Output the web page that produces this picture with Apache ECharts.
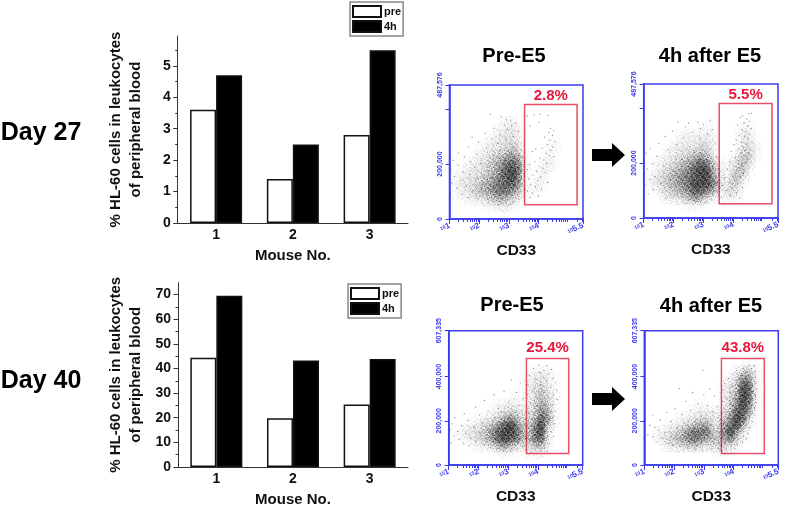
<!DOCTYPE html>
<html><head><meta charset="utf-8">
<style>html,body{margin:0;padding:0;background:#fff}#c{width:787px;height:508px}</style>
<script src="https://cdn.jsdelivr.net/npm/echarts@6/dist/echarts.min.js"></script>
</head><body><div id="c"></div>
<script>
// ---------- data ----------
const mice = ['1','2','3'];
const day27Pre = [3.6,1.4,2.8];
const day27After = [4.7,2.5,5.5];
const day40Pre = [44.3,19.8,25.4];
const day40After = [69.5,43.2,43.8];
const day27Ticks = [0,1,2,3,4,5];
const day27Minor = [0.5,1.5,2.5,3.5,4.5,5.5];
const day40Ticks = [0,10,20,30,40,50,60,70];
const day40Minor = [5,15,25,35,45,55,65];

// flow panels: x = log10(CD33), y in thousands
const decadeLabels = [1,2,3,4,5,5.5];
const logFractions = [0.301,0.477,0.602,0.699,0.778,0.845,0.903,0.954];
const day27YMax = 487.576, day40YMax = 607.335;
const day27YTicks = [0,200,400,487.576], day27YLabels = [0,200,487.576];
const day40YTicks = [0,200,400,607.335], day40YLabels = [0,200,400,607.335];

const day27PreGate = [3.53,5.3,52,417], day27AfterGate = [3.53,5.3,52,417];
const day40PreGate = [3.61,5.03,52,482], day40AfterGate = [3.59,5.03,52,482];

// density read by eye, rows from the top; columns log10 = 1.1, 1.3 ... 5.3
const day27PreDensity = [
 "0000000000000000000000",
 "0000000001100000000000",
 "0000000011210000000000",
 "0000000112210000000000",
 "0000001122320000010000",
 "0000011223430000010000",
 "0000112345651000100000",
 "0001123457871000110000",
 "0011223468981001100000",
 "0112234578971001000000",
 "0122345678861011000000",
 "0112345677641010000000",
 "0011223454320000000000",
 "0000001122100000000000"];
const day27AfterDensity = [
 "0000000000000000000000",
 "0000000000000000000000",
 "0000000000100000110000",
 "0000001111110000120000",
 "0000011112210000121000",
 "0000112223310000231000",
 "0001122345420001341000",
 "0011234568741012430000",
 "0012345689952013410000",
 "0123456789963024300000",
 "0123456799974033100000",
 "0012345688752132000000",
 "0001223465320111000000",
 "0000000111000000000000"];
const day40PreDensity = [
 "0000000000000000000000",
 "0000000000000011100000",
 "0000000000000112110000",
 "0000000000000123100000",
 "0000000000000124210000",
 "0000000000010124310000",
 "0000000011110135410000",
 "0000000112321236510000",
 "0000011235642248610000",
 "0001123468963369410000",
 "0012234689974379200000",
 "0011234689873478100000",
 "0000112356432245100000",
 "0000000011100111000000"];
const day40AfterDensity = [
 "0000000000000000010000",
 "0000000000000001341000",
 "0000000000000012661000",
 "0000000000000123881000",
 "0000000000000124981000",
 "0000000000000135981000",
 "0000000001000136970000",
 "0000000011111248860000",
 "0000001122321369820000",
 "0000112345522579510000",
 "0011234677733695200000",
 "0012345676543573100000",
 "0001223443233321000000",
 "0000000000001100000000"];

const day27PreDots = [[3.62,375],[3.85,378],[4.06,381],[4.31,377],[4.02,352],[3.71,338],[4.4,330],[4.51,322],[4.35,315],[4.47,305],[4.21,298],[4.38,287],[4.55,281],[4.3,270],[4.48,262],[4.12,258],[3.91,255],[4.42,250],[3.79,246],[4.25,240],[4.36,232],[4.51,228],[4.05,222],[4.18,215],[3.88,208],[4.27,203],[3.7,198],[4.02,192],[4.14,186],[3.62,180],[3.94,174],[4.22,168],[3.81,160],[4.07,153],[3.67,147],[3.98,140],[4.31,133],[3.74,126],[3.89,118],[4.1,108],[3.63,102],[3.8,94],[4.0,84],[3.72,78],
[2.38,381],[2.74,372],[2.92,361],[3.06,357],[3.22,349],[2.85,342],[3.1,338],[2.51,330],[2.96,325],[3.32,318],[2.2,312],[2.71,306],[3.15,300],[1.76,298],[2.43,292],[2.9,288],[1.98,280],[2.62,276],[3.28,272],[1.64,262],[2.25,258],[3.41,252],[1.31,240],[1.93,236],[2.47,231],[1.5,226],[1.12,214],[1.71,208],[2.06,203],[1.28,196],[1.84,188],[1.05,182],[2.31,176],[1.46,170],[1.68,161],[1.17,154],[1.94,148],[1.39,140],[1.08,131],[2.12,126],[1.56,118],[1.25,112],[1.79,103],[1.03,96],[1.42,89],[2.02,84],[1.63,78],[2.29,72],[2.58,66],[2.81,58],[3.05,54],[3.18,63],[2.66,52],[3.34,72],[2.96,70],
[2.6,205],[2.75,180],[2.88,220],[3.02,240],[3.2,260],[2.44,150],[2.53,118],[2.98,95],[3.28,110],[3.38,140],[3.42,190],[2.35,190],[2.18,160],[2.08,108],[2.7,250],[3.36,230]];
const day27AfterDots = [[4.32,372],[4.52,380],[4.61,381],[4.24,365],[4.45,360],[4.55,352],[4.36,346],[4.15,338],[4.48,334],[4.6,326],[4.3,322],[4.42,314],[4.54,306],[4.2,302],[4.37,295],[4.49,288],[4.1,284],[4.28,276],[4.44,270],[4.02,266],[4.33,258],[4.18,252],[4.4,246],[3.94,242],[4.25,236],[4.36,228],[4.08,222],[4.47,216],[4.18,210],[3.88,204],[4.3,198],[4.02,190],[4.2,184],[3.8,178],[4.12,172],[4.35,164],[3.95,158],[4.24,150],[3.7,146],[4.05,138],[3.86,130],[4.15,124],[3.62,118],[3.98,110],[4.3,112],[3.78,100],[4.1,92],[3.9,82],[3.6,76],[4.22,72],
[2.15,350],[2.5,345],[2.82,348],[3.0,341],[3.22,356],[2.4,332],[2.9,326],[3.3,322],[1.96,316],[2.62,312],[3.14,305],[1.72,296],[2.34,292],[2.88,288],[1.5,272],[2.12,268],[3.4,270],[1.22,252],[1.82,248],[2.55,260],[1.08,236],[1.44,225],[1.02,210],[1.3,198],[1.66,190],[1.12,178],[1.01,164],[1.38,152],[1.2,140],[1.58,128],[1.05,120],[1.86,112],[1.33,104],[1.62,94],[2.02,84],[1.15,88],[2.28,76],[2.52,68],[1.74,72],[2.8,60],[3.05,56],[3.28,66],[2.42,54],[3.12,76],[3.46,96],[3.48,130],[3.5,180],[3.44,220],
[2.72,240],[2.98,265],[2.26,215],[2.0,170],[2.42,105],[3.18,232],[1.9,140],[2.65,88]];
const day40PreDots = [[4.02,452],[4.3,448],[4.45,432],[4.2,428],[3.85,436],[4.05,418],[4.36,412],[3.72,404],[4.18,398],[4.5,392],[3.92,388],[4.28,380],[4.6,372],[3.66,364],[4.08,362],[4.42,352],[4.62,340],[3.8,338],[4.2,330],[3.64,320],[4.52,316],[3.95,308],[4.64,296],[3.74,282],[4.5,272],[3.88,262],[4.58,244],[3.68,232],[4.48,216],[3.8,205],[4.56,186],[3.66,172],[4.44,150],[4.52,130],[3.72,112],[4.38,98],[3.96,84],[4.22,76],[3.62,70],[4.1,64],[4.3,62],[3.8,74],
[3.1,385],[3.42,372],[2.86,334],[3.28,328],[2.52,318],[3.5,300],[2.2,292],[3.02,284],[3.36,270],[1.9,262],[2.66,256],[2.32,244],[3.44,246],[1.52,232],[2.04,226],[1.2,214],[1.64,202],[1.12,186],[1.42,178],[1.84,172],[1.05,160],[1.3,152],[2.02,148],[1.58,140],[1.18,132],[1.74,124],[1.36,116],[1.92,108],[1.08,100],[1.5,96],[2.2,92],[1.68,86],[2.4,78],[2.62,72],[2.84,64],[3.08,62],[3.3,70],[3.48,84],[2.5,106],[2.26,120],[2.38,160],[2.14,190],[2.55,214],[2.76,240],[3.0,262],[3.26,238],[3.54,180],[3.58,120]];
const day40AfterDots = [[4.52,452],[4.7,448],[4.34,438],[4.6,436],[4.1,428],[4.42,420],[4.72,422],[3.98,410],[4.25,404],[4.74,398],[3.82,392],[4.12,384],[4.76,372],[3.7,368],[3.96,356],[4.78,344],[3.64,340],[3.88,328],[4.72,318],[3.74,306],[4.06,296],[3.62,288],[4.76,282],[3.9,274],[4.7,258],[3.72,252],[3.6,232],[4.68,226],[3.84,212],[4.62,196],[3.66,186],[4.56,168],[3.62,160],[4.48,142],[3.64,126],[4.42,118],[3.7,100],[4.3,104],[3.92,84],[4.12,90],[3.76,72],[4.04,74],[3.6,64],[3.5,74],
[2.96,428],[3.2,344],[2.18,346],[2.62,328],[3.0,316],[3.36,312],[2.4,288],[2.8,278],[3.12,270],[3.44,262],[2.04,254],[2.56,248],[3.3,240],[1.76,238],[2.26,228],[1.28,226],[2.9,222],[1.04,208],[1.54,204],[1.9,198],[1.18,180],[1.36,170],[1.02,152],[1.48,158],[1.7,148],[1.12,136],[1.3,128],[1.6,120],[1.4,104],[1.82,98],[1.96,92],[2.2,84],[2.46,78],[2.7,70],[2.96,68],[3.24,72],[3.5,98],[3.42,130],[3.54,200],[2.1,170],[2.36,190],[2.72,200],[3.06,190],[1.9,130],[2.5,110]];

// ---------- layout and styling ----------
const BLUE = '#3a3af0', RED = '#e8173c', INK = '#111';
const FONT = '"Liberation Sans", Arial, sans-serif';

// stipple texture used as the symbol of each density cell
const stippleGrain = [[3,22],[8,71],[12,44],[15,90],[19,8],[23,60],[27,33],[30,78],[34,15],[37,52],[41,95],[44,27],[47,68],[50,3],[53,40],[56,84],[60,18],[63,57],[66,36],[70,92],[72,5],[75,48],[78,74],[82,25],[85,62],[88,12],[91,83],[94,38],[97,54],[20,38],[33,88],[58,72],[80,1],[6,56],[43,12],[68,50]];
const stipplePath = 'path://M0 0h.01v.01h-.01zM100 100h.01v.01h-.01z' +
  stippleGrain.map(p => 'M' + p[0] + ' ' + p[1] + 'h5v5h-5z').join('');

const grids = [], xAxes = [], yAxes = [], series = [];

function addBarChart(box, pre, after, yMax, ticks, minor) {
  const g = grids.length;
  grids.push({left: box[0], top: box[1], width: box[2], height: box[3]});
  const axisLine = {lineStyle: {color: '#333', width: 1}};
  const ti = yAxes.length;
  xAxes.push({gridIndex: g, type: 'category', data: mice, boundaryGap: true, position: 'bottom',
    axisLine, axisTick: {show: false},
    axisLabel: {margin: 5, fontFamily: FONT, fontWeight: 'bold', fontSize: 14, color: INK},
    name: 'Mouse No.', nameLocation: 'middle', nameGap: 25,
    nameTextStyle: {fontFamily: FONT, fontWeight: 'bold', fontSize: 15, color: INK}});
  yAxes.push({gridIndex: g, type: 'value', position: 'left', min: 0, max: yMax, splitLine: {show: false},
    axisLine: {show: true, ...axisLine},
    axisTick: {show: true, length: 4.5, customValues: ticks, lineStyle: {color: '#333'}},
    axisLabel: {customValues: ticks, margin: 7, fontFamily: FONT, fontWeight: 'bold', fontSize: 14, color: INK},
    name: '% HL-60 cells in leukocytes\nof peripheral blood', nameLocation: 'middle',
    nameGap: 32, nameRotate: 90,
    nameTextStyle: {fontFamily: FONT, fontWeight: 'bold', fontSize: 15, lineHeight: 20, color: INK}});
  yAxes.push({gridIndex: g, type: 'value', position: 'left', min: 0, max: yMax, splitLine: {show: false},
    axisLine: {show: false},
    axisTick: {show: true, length: 2.5, customValues: minor, lineStyle: {color: '#333'}},
    axisLabel: {show: false}});
  const barStyle = {barWidth: 26, barGap: '0%', animation: false, xAxisIndex: xAxes.length - 1, yAxisIndex: ti};
  series.push({type: 'bar', name: 'pre', data: pre, ...barStyle, itemStyle: {color: '#fff', borderColor: '#111', borderWidth: 1.5}});
  series.push({type: 'bar', name: '4h', data: after, ...barStyle, itemStyle: {color: '#000', borderColor: '#111', borderWidth: 1.5}});
}

function cells(rows, yTop, yStep) {
  const out = [];
  rows.forEach((row, r) => {
    for (let c = 0; c < row.length; c++) {
      const d = +row[c];
      if (d > 0) out.push([1.1 + 0.2 * c, yTop - r * yStep, d, (r * 5 + c * 3) % 4]);
    }
  });
  return out;
}

function addFlowPanel(box, yMax, yTicks, yLabels, density, yTop, yStep, dots, gate, pct, pctGap) {
  const g = grids.length;
  grids.push({left: box[0], top: box[1], width: box[2], height: box[3], show: true,
    borderColor: BLUE, borderWidth: 1.5, backgroundColor: '#fff'});
  const xi = xAxes.length, yi = yAxes.length;
  const minor = [];
  [1,2,3,4,5].forEach(d => logFractions.forEach(f => { if (d + f < 5.5) minor.push(d + f); }));
  xAxes.push({gridIndex: g, type: 'value', position: 'bottom', min: 1, max: 5.5, splitLine: {show: false},
    axisLine: {lineStyle: {color: BLUE, width: 1.5}},
    axisTick: {length: 5, customValues: decadeLabels, lineStyle: {color: BLUE}},
    axisLabel: {customValues: decadeLabels, rotate: 25, margin: 6, hideOverlap: false, interval: 0,
      showMinLabel: true, showMaxLabel: true,
      formatter: v => '{a|10}{b|' + v + '}',
      rich: {a: {fontSize: 5, fontWeight: 'bold', color: BLUE, fontFamily: FONT},
             b: {fontSize: 8, fontWeight: 'bold', color: BLUE, fontFamily: FONT}}},
    name: 'CD33', nameLocation: 'middle', nameGap: 24,
    nameTextStyle: {fontFamily: FONT, fontWeight: 'bold', fontSize: 15.5, color: INK}});
  xAxes.push({gridIndex: g, type: 'value', position: 'bottom', min: 1, max: 5.5, splitLine: {show: false},
    axisLine: {show: false}, axisLabel: {show: false},
    axisTick: {length: 3, customValues: minor, lineStyle: {color: BLUE}}});
  yAxes.push({gridIndex: g, type: 'value', position: 'left', min: 0, max: yMax, splitLine: {show: false},
    axisLine: {show: true, lineStyle: {color: BLUE, width: 1.5}},
    axisTick: {show: true, length: 4, customValues: yTicks, lineStyle: {color: BLUE}},
    axisLabel: {customValues: yLabels, rotate: 90, margin: 6, hideOverlap: false,
      showMinLabel: true, showMaxLabel: true,
      fontSize: 7, fontWeight: 'bold', color: BLUE, fontFamily: FONT,
      formatter: v => Math.round(v * 1000).toLocaleString('en-US')}});
  const cellData = cells(density, yTop, yStep);
  // soft shading under the grain
  series.push({type: 'scatter', xAxisIndex: xi, yAxisIndex: yi, animation: false, silent: true,
    data: cellData, symbolSize: 9,
    itemStyle: {color: p => 'rgba(0,0,0,' + (Math.pow(p.value[2] / 9, 2) * 0.5).toFixed(3) + ')',
      shadowBlur: 5, shadowColor: 'rgba(0,0,0,0.12)'}});
  // grain
  series.push({type: 'scatter', xAxisIndex: xi, yAxisIndex: yi, animation: false, silent: true,
    data: cellData, symbol: stipplePath, symbolSize: 15,
    symbolRotate: p => p[3] * 90,
    itemStyle: {color: p => 'rgba(0,0,0,' + (0.06 + p.value[2] * 0.1).toFixed(3) + ')'}});
  series.push({type: 'scatter', xAxisIndex: xi, yAxisIndex: yi, animation: false, silent: true,
    data: dots, symbolSize: 1.2, itemStyle: {color: '#444', opacity: 0.7},
    markArea: {silent: true, itemStyle: {color: 'rgba(0,0,0,0)', borderColor: '#ea4f65', borderWidth: 1.5},
      label: {show: true, position: 'top', distance: pctGap, formatter: pct,
        color: RED, fontFamily: FONT, fontWeight: 'bold', fontSize: 15},
      data: [[{xAxis: gate[0], yAxis: gate[3]}, {xAxis: gate[1], yAxis: gate[2]}]]}});
}

addBarChart([177.7, 36, 230.3, 187], day27Pre, day27After, 5.95, day27Ticks, day27Minor);
addBarChart([178, 282.7, 230, 186.6], day40Pre, day40After, 74.8, day40Ticks, day40Minor);
addFlowPanel([449.5, 85, 133.5, 134], day27YMax, day27YTicks, day27YLabels, day27PreDensity, 375, 25, day27PreDots, day27PreGate, '2.8%', 0);
addFlowPanel([643.7, 84, 134.3, 134], day27YMax, day27YTicks, day27YLabels, day27AfterDensity, 375, 25, day27AfterDots, day27AfterGate, '5.5%', 0);
addFlowPanel([448.7, 330.7, 134, 134.3], day40YMax, day40YTicks, day40YLabels, day40PreDensity, 450, 30, day40PreDots, day40PreGate, '25.4%', 2);
addFlowPanel([644.3, 330.7, 134, 134.3], day40YMax, day40YTicks, day40YLabels, day40AfterDensity, 450, 30, day40AfterDots, day40AfterGate, '43.8%', 2);

const heading = (text, x, y, size) => ({text, left: x, top: y, textAlign: 'center', textVerticalAlign: 'middle',
  textStyle: {fontFamily: FONT, fontWeight: 'bold', fontSize: size, color: '#000'}, padding: 0});
const titles = [
  heading('Day 27', 41, 133, 25), heading('Day 40', 41, 381, 25),
  heading('Pre-E5', 514, 56, 20), heading('4h after E5', 710, 56, 20),
  heading('Pre-E5', 512, 305, 20), heading('4h after E5', 711, 306, 20)];

const legendBase = {orient: 'vertical', data: [{name: 'pre', icon: 'rect'}, {name: '4h', icon: 'rect'}], selectedMode: false, itemWidth: 28, itemHeight: 11,
  itemGap: 2, padding: [3,2,3,2], borderColor: '#888', borderWidth: 1.5, backgroundColor: '#fff',
  textStyle: {fontFamily: FONT, fontWeight: 'bold', fontSize: 11, color: INK, padding: [0,0,0,-2]}};

const arrow = (y) => ({type: 'polygon', silent: true, style: {fill: '#000'},
  shape: {points: [[592,y-6],[612,y-6],[612,y-12],[625,y],[612,y+12],[612,y+6],[592,y+6]]}});

const chart = echarts.init(document.getElementById('c'), null, {renderer: 'canvas'});
chart.setOption({
  backgroundColor: '#fff', animation: false, tooltip: {show: false},
  title: titles,
  legend: [{...legendBase, left: 350, top: 2}, {...legendBase, left: 348, top: 284}],
  grid: grids, xAxis: xAxes, yAxis: yAxes, series,
  graphic: [arrow(155), arrow(399)]
});
</script></body></html>
